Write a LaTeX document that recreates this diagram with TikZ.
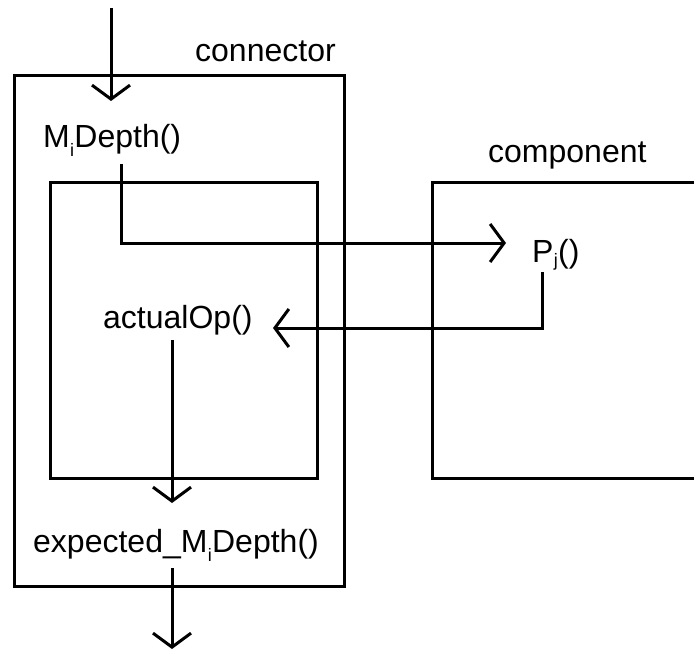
\documentclass[tikz,border=0pt]{standalone}
\usepackage{fontspec}
\setmainfont{Liberation Sans}
\usetikzlibrary{arrows.meta}
\newcommand\mysubi{\kern0.3pt\raisebox{-9pt}{\fontsize{18}{18}\selectfont i}\kern0.3pt}
\newcommand\mysubj{\kern0.3pt\raisebox{-4pt}{\fontsize{18}{18}\selectfont j}\kern0.3pt}
\tikzset{
  box/.style={draw, line width=3pt},
  lbl/.style={anchor=base west, inner sep=0pt, font=\fontsize{32}{36}\selectfont},
  arr/.style={line width=3pt, -{Straight Barb[length=14pt,width=38pt]}},
}
\begin{document}
\begin{tikzpicture}[x=1pt,y=-1pt]
\useasboundingbox (0,0) rectangle (694,650);
% boxes
\draw[box] (14,76) rectangle (344,586);
\draw[box] (50,183) rectangle (317,478);
\draw[box] (700,183) -- (432,183) -- (432,478) -- (700,478);
% labels
\node[lbl] (conn) at (195,62) {connector};
\node[lbl] (comp) at (488,163) {component};
\node[lbl] (mi) at (43,148) {M\mysubi Depth()};
\node[lbl] (pj) at (532,262) {P\mysubj()};
\node[lbl] (act) at (103,328) {actualOp()};
\node[lbl] (exp) at (33,552) {expected\_M\mysubi Depth()};
% coordinates
\coordinate (top) at (111,8);
\coordinate (topend) at (111,101);
\coordinate (mis) at (121,164);
\coordinate (pjw) at (506,243);
\coordinate (pjs) at (542,272);
\coordinate (acte) at (273,328);
\coordinate (acts) at (172,340);
\coordinate (expn) at (172,503);
\coordinate (exps) at (172,568);
\coordinate (bot) at (172,649);
% connectors
\draw[arr] (top) -- (topend);
\draw[arr] (mis) |- (pjw);
\draw[arr] (pjs) |- (acte);
\draw[arr] (acts) -- (expn);
\draw[arr] (exps) -- (bot);
\end{tikzpicture}
\end{document}
